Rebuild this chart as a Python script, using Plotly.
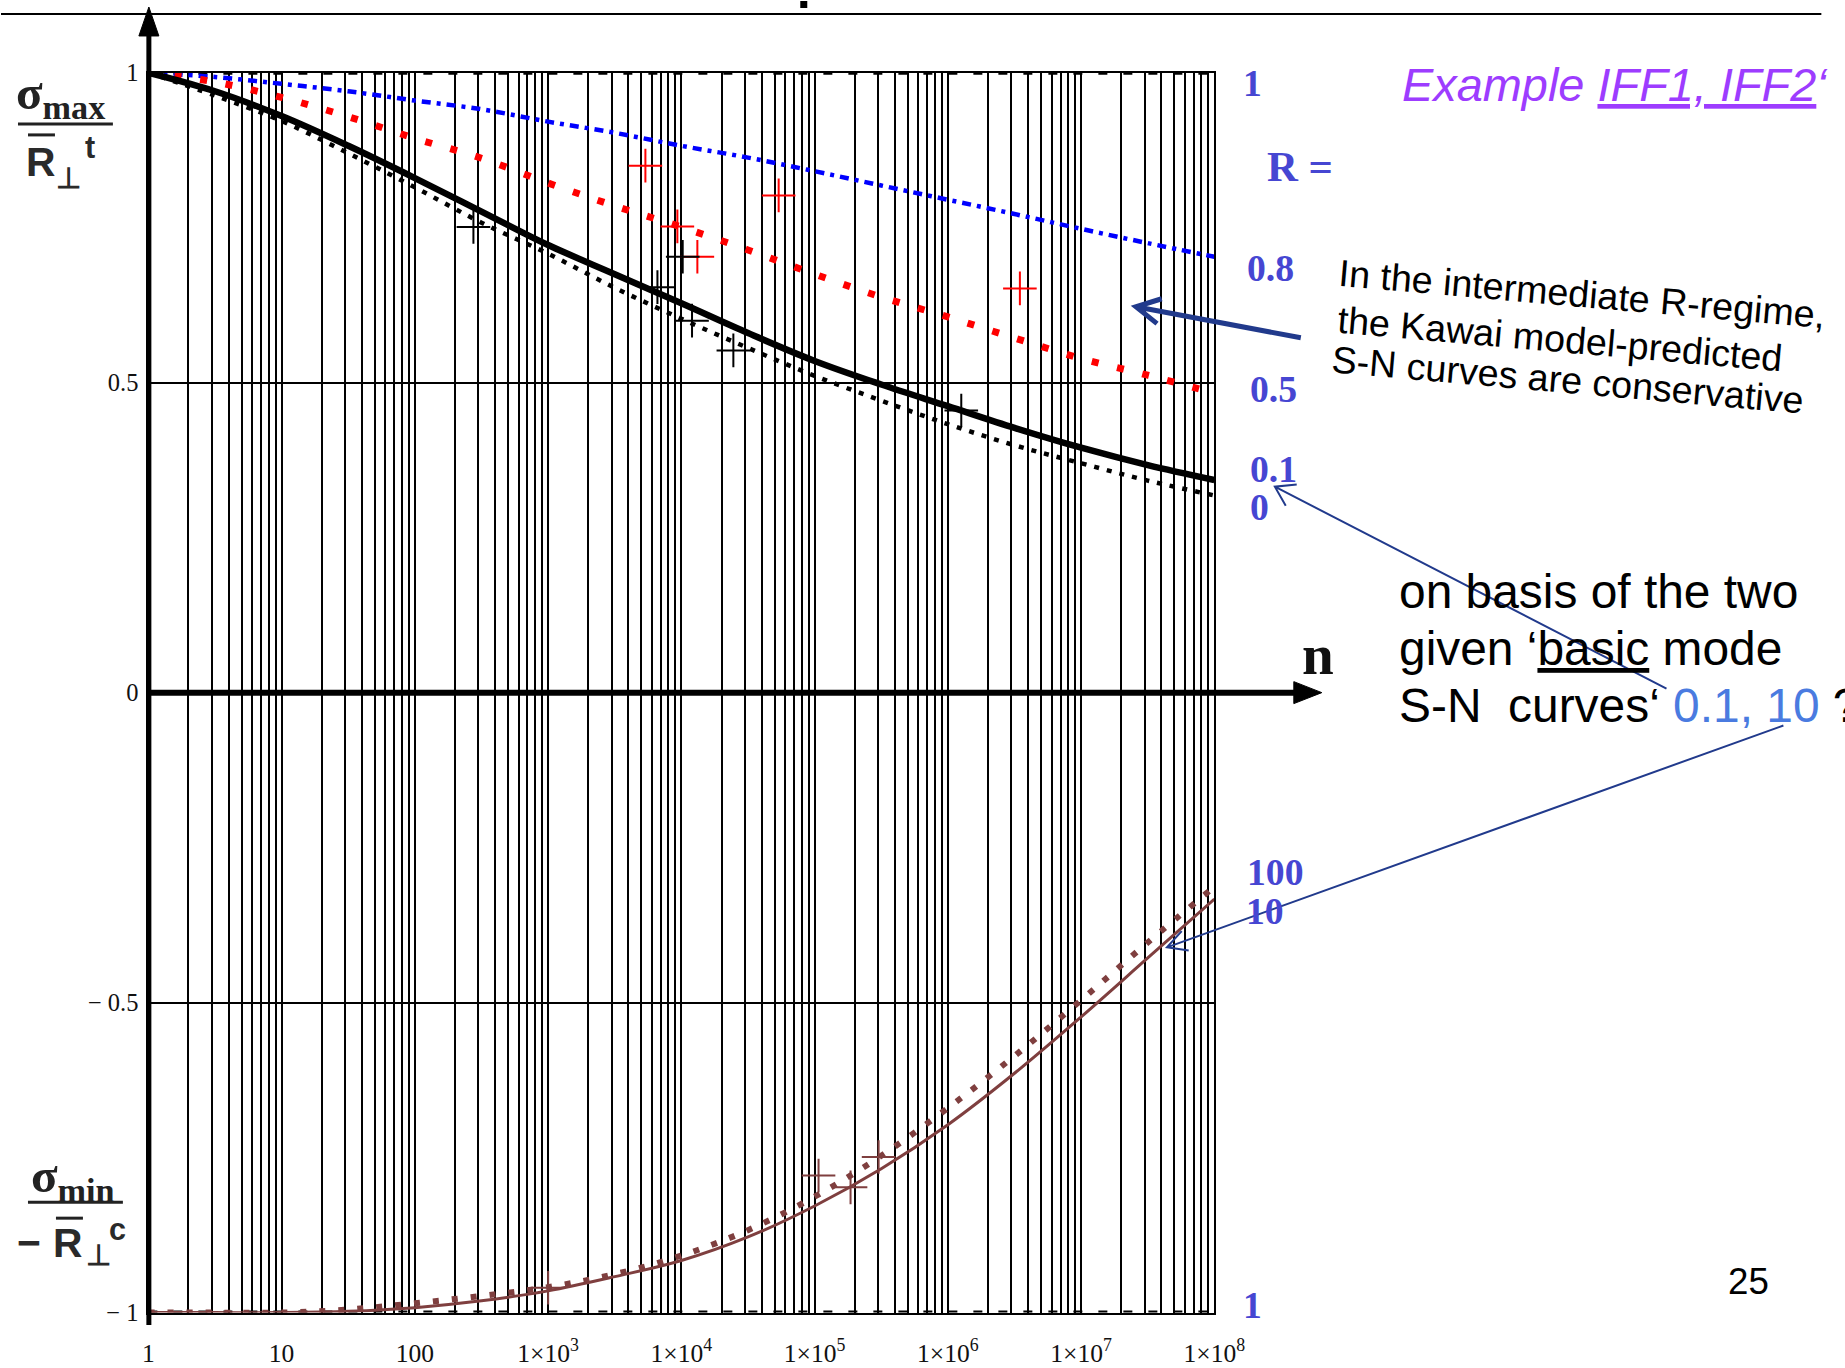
import math
import plotly.graph_objects as go

# The captured picture shows the page slightly reduced and offset; all positions
# below are given in final picture pixels and mapped back through that transform.
CX, CY, S = 5.0, 12.0, 0.981
FW, FH = 1860, 1372

# ---------------- data ----------------
n_cycles = [1, 3.162, 10, 31.62, 100, 316.2, 1e3, 3162, 1e4, 3.162e4, 1e5,
            3.162e5, 1e6, 3.162e6, 1e7, 3.162e7, 1e8]

sn_R08 = [1.000, 0.993, 0.982, 0.970, 0.955, 0.941, 0.921, 0.903, 0.882,
          0.863, 0.841, 0.818, 0.795, 0.772, 0.748, 0.725, 0.703]
sn_R05 = [1.000, 0.985, 0.960, 0.929, 0.894, 0.862, 0.822, 0.785, 0.751,
          0.714, 0.675, 0.638, 0.606, 0.572, 0.539, 0.512, 0.483]
sn_R01 = [1.000, 0.970, 0.930, 0.882, 0.830, 0.776, 0.722, 0.675, 0.628,
          0.580, 0.535, 0.497, 0.462, 0.427, 0.395, 0.367, 0.343]
sn_R0 = [1.000, 0.963, 0.922, 0.870, 0.815, 0.758, 0.708, 0.653, 0.603,
         0.556, 0.511, 0.471, 0.433, 0.399, 0.370, 0.342, 0.318]
sn_R10 = [-1.000, -1.000, -1.000, -0.998, -0.992, -0.981, -0.965, -0.942, -0.916,
          -0.878, -0.828, -0.768, -0.697, -0.614, -0.523, -0.428, -0.333]
sn_R100 = [-1.000, -1.000, -1.000, -0.995, -0.985, -0.973, -0.959, -0.938, -0.908,
           -0.867, -0.813, -0.747, -0.670, -0.586, -0.496, -0.403, -0.313]

test_R05_n = [5370, 9330, 13180, 53700, 3.47e6]
test_R05_s = [0.850, 0.752, 0.703, 0.802, 0.652]
test_R01_n = [275, 6610, 10230, 12020, 24550, 1.26e6]
test_R01_s = [0.751, 0.654, 0.703, 0.600, 0.552, 0.455]
test_R10_n = [1000, 1.07e5, 1.86e5, 3.02e5]
test_R10_s = [-0.960, -0.779, -0.798, -0.749]

R1_n = [1, 1e8]
R1_top = [1.0, 1.0]
R1_bottom = [-1.0, -1.0]

x_tickvals = [1, 10, 100, 1e3, 1e4, 1e5, 1e6, 1e7, 1e8]
x_ticktext = ["1", "10", "100", "1×10<sup>3</sup>", "1×10<sup>4</sup>",
              "1×10<sup>5</sup>", "1×10<sup>6</sup>", "1×10<sup>7</sup>",
              "1×10<sup>8</sup>"]
y_tickvals = [-1, -0.5, 0, 0.5, 1]
y_ticktext = ["− 1", "− 0.5", "0", "0.5", "1"]

R_labels = ["1", "R =", "0.8", "0.5", "0.1", "0", "100", "10", "1"]

# ---------------- helpers ----------------
def px(x):
    return ((x - CX) / S) / FW


def py(y):
    return 1 - ((y - CY) / S) / FH


def fs(size):
    return round(size / S, 1)


SERIF = "Liberation Serif, Times New Roman, serif"
SANS = "Liberation Sans, Arial, sans-serif"

X_LEFT, X_RIGHT = 147.5, 1214.5
Y_TOP, Y_BOT = 71.7, 1312.5
Y_ZERO = (Y_TOP + Y_BOT) / 2

fig = go.Figure()


def add_curve(n, s, color, width, dash, name):
    fig.add_trace(go.Scatter(
        x=n, y=s, mode="lines", name=name, cliponaxis=False, hoverinfo="skip",
        line=dict(color=color, width=width, dash=dash, shape="spline", smoothing=1.0)))


def add_points(n, s, color, name):
    fig.add_trace(go.Scatter(
        x=n, y=s, mode="markers", name=name, cliponaxis=False, hoverinfo="skip",
        marker=dict(symbol="cross-thin", size=24, color=color,
                    line=dict(width=2, color=color))))


add_curve(R1_n, R1_top, "black", 4, "9px,16px", "R=1")
add_curve(R1_n, R1_bottom, "black", 4, "9px,16px", "R=1 (c)")
add_curve(n_cycles, sn_R08, "#0000ff", 4.5, "9px,6px,4px,6px", "R=0.8")
add_curve(n_cycles, sn_R05, "#ff0000", 7, "7px,19px", "R=0.5")
add_curve(n_cycles, sn_R0, "black", 4.5, "5px,8px", "R=0")
add_curve(n_cycles, sn_R01, "black", 6.5, "solid", "R=0.1")
add_curve(n_cycles, sn_R100, "#7f3f3f", 6, "6px,13px", "R=100")
add_curve(n_cycles, sn_R10, "#7f3f3f", 3, "solid", "R=10")
add_points(test_R05_n, test_R05_s, "#ff0000", "tests R=0.5")
add_points(test_R01_n, test_R01_s, "black", "tests R=0.1")
add_points(test_R10_n, test_R10_s, "#7f3f3f", "tests R=10")

# ---------------- shapes ----------------
shapes = []


def seg(x0, y0, x1, y1, width, color="black"):
    shapes.append(dict(type="line", xref="paper", yref="paper",
                       x0=px(x0), y0=py(y0), x1=px(x1), y1=py(y1),
                       line=dict(color=color, width=width)))


def tri(pts, color="black"):
    d = "M " + " L ".join(f"{px(a)},{py(b)}" for a, b in pts) + " Z"
    shapes.append(dict(type="path", xref="paper", yref="paper", path=d,
                       fillcolor=color, line=dict(color=color, width=1)))


def arrow(x0, y0, xt, yt, arm, ang, width, color):
    dx, dy = x0 - xt, y0 - yt
    L = math.hypot(dx, dy)
    ux, uy = dx / L, dy / L
    pts = []
    for s in (1, -1):
        a = math.radians(ang) * s
        rx = ux * math.cos(a) - uy * math.sin(a)
        ry = ux * math.sin(a) + uy * math.cos(a)
        pts.append((xt + arm * rx, yt + arm * ry))
    d = (f"M {px(x0)},{py(y0)} L {px(xt)},{py(yt)} "
         f"M {px(pts[0][0])},{py(pts[0][1])} L {px(xt)},{py(yt)} "
         f"L {px(pts[1][0])},{py(pts[1][1])}")
    shapes.append(dict(type="path", xref="paper", yref="paper", path=d,
                       line=dict(color=color, width=width)))


# slide top rule and fragment of the cut-off title
seg(0, 13, 1822, 13, 2)
shapes.append(dict(type="rect", xref="paper", yref="paper", x0=px(800), x1=px(807),
                   y0=py(0), y1=py(7), fillcolor="black", line=dict(width=0)))

# axes with arrows
seg(148, 1325, 148, 28, 5)
tri([(148, 6), (138, 35), (158, 35)])
seg(148, Y_ZERO, 1298, Y_ZERO, 6)
tri([(1322, Y_ZERO), (1294, Y_ZERO - 11), (1294, Y_ZERO + 11)])

# fraction labels (bars and overlines)
seg(17, 123, 112, 123, 3, "#222")
seg(27, 134, 54, 134, 3, "#222")
seg(27, 1202, 122, 1202, 3, "#222")
seg(55, 1218, 82, 1218, 3, "#222")

# arrows
NAVY = "#213a8c"
arrow(1301, 337, 1136, 306, 27, 28, 5, NAVY)
arrow(1667, 688, 1275, 486, 22, 33, 2, NAVY)
arrow(1784, 725, 1167, 947, 22, 28, 2, NAVY)

# ---------------- annotations ----------------
anns = []


def ann(text, x, y, size, color="black", family=SANS, xanchor="center",
        yanchor="middle", angle=0, align="center"):
    anns.append(dict(text=text, x=px(x), y=py(y), xref="paper", yref="paper",
                     showarrow=False, xanchor=xanchor, yanchor=yanchor,
                     textangle=angle, align=align,
                     font=dict(size=fs(size), color=color, family=family)))


# left axis labels
ann("<b>σ<sub>max</sub></b>", 60, 95, 48, "#222", SERIF)
ann("<b>R</b>", 40, 161, 40, "#2a2a2a", SANS)
ann("<b>⊥</b>", 68, 177, 28, "#2a2a2a", SANS)
ann("<b>t</b>", 89, 146, 30, "#2a2a2a", SANS)

ann("<b>σ<sub>min</sub></b>", 72, 1178, 48, "#222", SERIF)
ann("<b>−</b>", 28, 1243, 40, "#2a2a2a", SANS)
ann("<b>R</b>", 67, 1243, 40, "#2a2a2a", SANS)
ann("<b>⊥</b>", 98, 1255, 28, "#2a2a2a", SANS)
ann("<b>c</b>", 117, 1229, 30, "#2a2a2a", SANS)

# n axis label
ann("<b>n</b>", 1318, 654, 56, "#111", SERIF)

# R labels on the right
R_pos = [(1253, 82), (1300, 166), (1271, 267), (1274, 388), (1274, 468),
         (1260, 506), (1276, 872), (1265, 911), (1253, 1305)]
R_size = [37, 42, 37, 37, 37, 37, 37, 37, 37]
for txt, (xx, yy), sz in zip(R_labels, R_pos, R_size):
    ann(f"<b>{txt}</b>", xx, yy, sz, "#4646d2", SERIF)

# purple heading
ann("<i>Example <u>IFF1, IFF2</u>‘</i>", 1400, 84, 46, "#9d3cff", SANS,
    xanchor="left")

# rotated remark
ann("In the intermediate R-regime,", 1582, 293, 37, "black", SANS, angle=5)
ann("the Kawai model-predicted", 1560, 338, 37, "black", SANS, angle=5)
ann("S-N curves are conservative", 1568, 379, 37, "black", SANS, angle=5)

# question text
ann("on basis of the two", 1397, 591, 47, "black", SANS, xanchor="left")
ann("given ‘<u>basic</u> mode", 1397, 648, 47, "black", SANS, xanchor="left")
ann("S-N\u00a0\u00a0curves‘ <span style='color:#4a7be0'>0.1, 10</span> ?",
    1397, 705, 47, "black", SANS, xanchor="left")

# page number
ann("25", 1749, 1281, 36, "black", SANS)

# ---------------- layout ----------------
fig.update_layout(
    width=FW, height=FH, autosize=False,
    margin=dict(l=0, r=0, t=0, b=0, pad=0),
    paper_bgcolor="white", plot_bgcolor="white",
    showlegend=False,
    shapes=shapes, annotations=anns,
    xaxis=dict(
        type="log", range=[0, 8], domain=[px(X_LEFT), px(X_RIGHT)],
        tickmode="array", tickvals=x_tickvals, ticktext=x_ticktext,
        ticks="outside", ticklen=17, tickcolor="rgba(0,0,0,0)",
        tickfont=dict(family=SERIF, size=fs(25), color="#111"),
        showgrid=True, gridcolor="black", gridwidth=1.6,
        minor=dict(dtick="D1", showgrid=True, gridcolor="black", gridwidth=1.6),
        showline=True, mirror=True, linecolor="black", linewidth=2,
        zeroline=False, fixedrange=True,
    ),
    yaxis=dict(
        range=[-1, 1], domain=[py(Y_BOT), py(Y_TOP)],
        tickmode="array", tickvals=y_tickvals, ticktext=y_ticktext,
        ticks="outside", ticklen=3, tickcolor="rgba(0,0,0,0)",
        tickfont=dict(family=SERIF, size=fs(24), color="#111"),
        showgrid=True, gridcolor="black", gridwidth=1.6,
        showline=True, mirror=True, linecolor="black", linewidth=2,
        zeroline=False, fixedrange=True,
    ),
)

fig.write_html("out.html", config={"displayModeBar": False})
